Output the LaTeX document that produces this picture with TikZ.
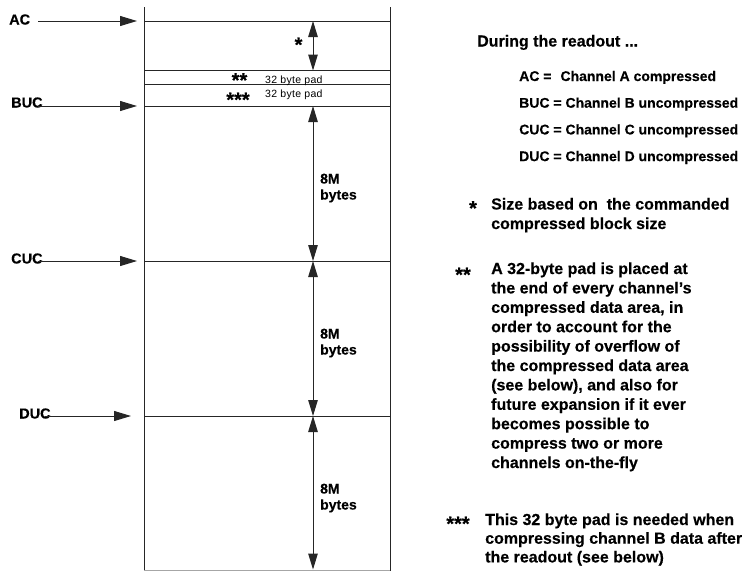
\documentclass[tikz,border=0pt]{standalone}
\usepackage{fontspec}
\setmainfont{Liberation Sans}[BoldFeatures={FakeBold=0.35}]
\usetikzlibrary{arrows.meta}
\begin{document}
\begin{tikzpicture}[x=1pt,y=-1pt,
  ln/.style={line width=1pt, draw=black!85},
  arr/.style={ln, -{Triangle[length=17pt,width=10pt]}},
  darr/.style={ln, {Triangle[length=16pt,width=9.5pt]}-{Triangle[length=16pt,width=9.5pt]}},
  lbl/.style={font=\fontsize{14.5}{16}\selectfont\bfseries, inner sep=0pt, anchor=base west},
  sizelbl/.style={font=\fontsize{14}{16}\selectfont\bfseries, inner sep=0pt, anchor=base west},
  padlbl/.style={font=\fontsize{10.5}{11}\selectfont\addfontfeature{LetterSpace=3}, inner sep=0pt, anchor=base west},
  starlbl/.style={font=\fontsize{20}{22}\selectfont\bfseries, inner sep=0pt, anchor=base},
  titlelbl/.style={font=\fontsize{16}{19}\selectfont\bfseries, inner sep=0pt, anchor=base west},
  leglbl/.style={font=\fontsize{14}{16}\selectfont\bfseries, inner sep=0pt, anchor=base west},
  paralbl/.style={font=\fontsize{16}{19.4}\selectfont\bfseries, inner sep=0pt, anchor=base west}
]
\useasboundingbox[fill=white] (0,0) rectangle (749,571);

% memory column
\coordinate (LT) at (144,7);  \coordinate (LB) at (144,571);
\coordinate (RT) at (390,7);  \coordinate (RB) at (390,571);
\draw[ln] (LT) -- (LB);
\draw[ln] (RT) -- (RB);
\foreach \n/\y in {ac/21, pa/70.5, pb/84.5, buc/106, cuc/261, duc/416}{
  \coordinate (\n L) at (144,\y);
  \coordinate (\n R) at (390,\y);
  \draw[ln] (\n L) -- (\n R);
}
\coordinate (botL) at (144,570.3); \coordinate (botR) at (390,570.3);
\draw[line width=0.6pt, draw=black!35] (botL) -- (botR);

% left labels and arrows
\node[lbl] (AC) at (9,24.5) {AC};
\node[lbl] (BUC) at (11,107.5) {BUC};
\node[lbl] (CUC) at (11,263.5) {CUC};
\node[lbl] (DUC) at (19,418.5) {DUC};
\coordinate (acS) at (38,21);   \coordinate (acT) at (137,21);
\coordinate (bucS) at (38,106); \coordinate (bucT) at (137,106);
\coordinate (cucS) at (38,261); \coordinate (cucT) at (137,261);
\coordinate (ducS) at (45,416); \coordinate (ducT) at (131,416);
\draw[arr] (acS) -- (acT);
\draw[arr] (bucS) -- (bucT);
\draw[arr] (cucS) -- (cucT);
\draw[arr] (ducS) -- (ducT);

% dimension arrows
\coordinate (d0) at (313,21);
\coordinate (d1) at (313,70.5);
\coordinate (d2) at (313,106);
\coordinate (d3) at (313,261);
\coordinate (d4) at (313,416);
\coordinate (d5) at (313,569.5);
\draw[darr] (d0) -- (d1);
\draw[darr] (d2) -- (d3);
\draw[darr] (d3) -- (d4);
\draw[darr] (d4) -- (d5);

\node[starlbl] (s1) at (298.5,51.5) {*};
\node[starlbl] (s2) at (239.5,87) {**};
\node[starlbl] (s3) at (238,106.5) {***};
\node[padlbl] (pad1) at (265,83.5) {32 byte pad};
\node[padlbl] (pad2) at (265,97) {32 byte pad};

\node[sizelbl] (m1a) at (320,183.5) {8M};
\node[sizelbl] (m1b) at (320,199.5) {bytes};
\node[sizelbl] (m2a) at (320,338.5) {8M};
\node[sizelbl] (m2b) at (320,354.5) {bytes};
\node[sizelbl] (m3a) at (320,493.5) {8M};
\node[sizelbl] (m3b) at (320,509.5) {bytes};

% legend
\node[titlelbl] (title) at (477,46.5) {During the readout ...};
\node[leglbl] (l1) at (519,81) {AC =\hspace{9pt}Channel A compressed};
\node[leglbl] (l2) at (519,107.7) {BUC = Channel B uncompressed};
\node[leglbl] (l3) at (519,134.4) {CUC = Channel C uncompressed};
\node[leglbl] (l4) at (519,161.1) {DUC = Channel D uncompressed};

\node[starlbl] (rs1) at (473,215) {*};
\node[paralbl] (a1) at (491,209.5) {Size based on\ \ the commanded};
\node[paralbl] (a2) at (491,229) {compressed block size};

\node[starlbl] (rs2) at (463,281.5) {**};
\foreach \t [count=\i] in {A 32-byte pad is placed at, the end of every channel’s, {compressed data area, in}, order to account for the, possibility of overflow of, the compressed data area, {(see below), and also for}, future expansion if it ever, becomes possible to, compress two or more, channels on-the-fly}{
  \node[paralbl] (b\i) at (491,{274+19.4*(\i-1)}) {\t};
}

\node[starlbl] (rs3) at (458,530.5) {***};
\node[paralbl] (c1) at (485,525) {This 32 byte pad is needed when};
\node[paralbl] (c2) at (485,543.7) {compressing channel B data after};
\node[paralbl] (c3) at (485,562.4) {the readout (see below)};
\end{tikzpicture}
\end{document}
